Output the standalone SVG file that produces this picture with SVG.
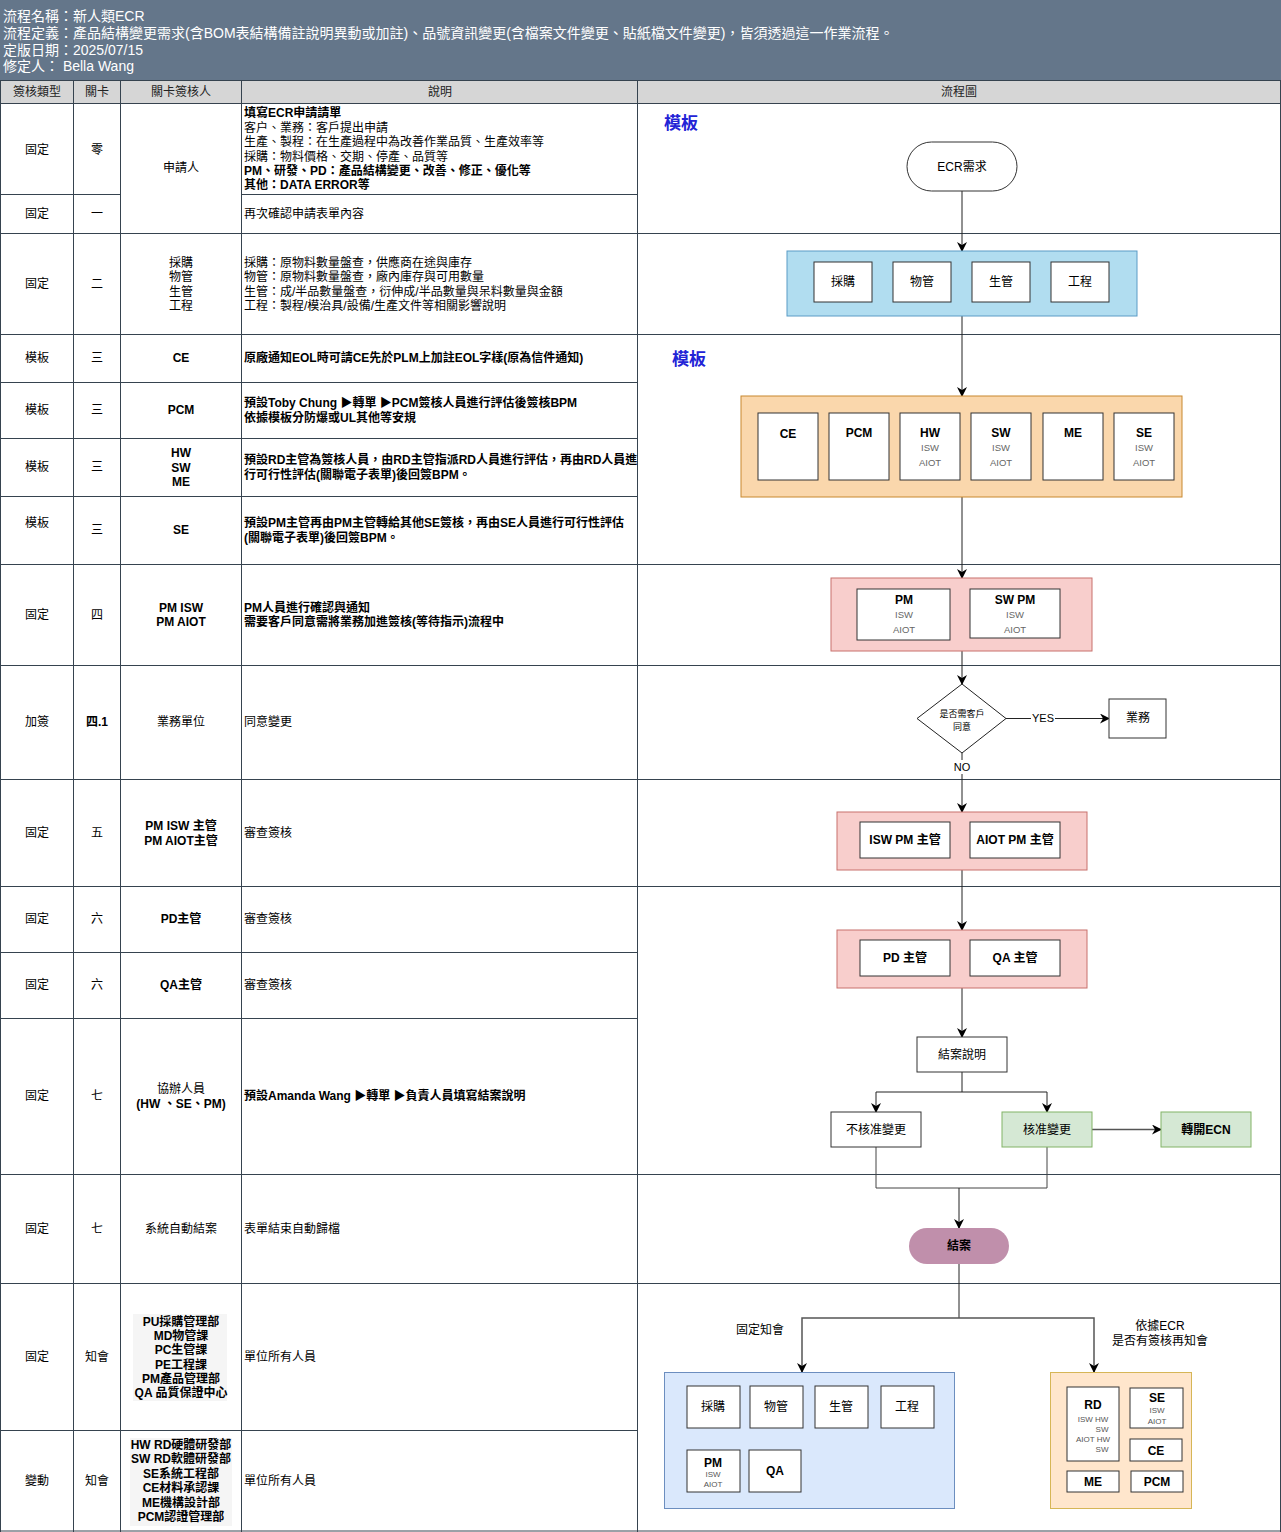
<svg xmlns="http://www.w3.org/2000/svg" width="1281" height="1532" viewBox="0 0 1281 1532">
<defs>
<marker id="arr" markerUnits="userSpaceOnUse" markerWidth="10" markerHeight="10" refX="9" refY="5" orient="auto">
<path d="M0,0 L10,5 L0,10 L3,5 Z" fill="#000"/>
</marker>
<style>
text{font-family:"Liberation Sans","Noto Sans CJK TC",sans-serif;font-size:12px;fill:#000}
.c{text-anchor:middle}
.b{font-weight:bold}
.h{fill:#fff;font-size:14px}
.hd{fill:#222}
.g line{stroke:#36434f;stroke-width:1}
.bx{fill:#fff;stroke:#333;stroke-width:1}
.sub{font-size:9.5px;fill:#666}
.tiny{font-size:8px;fill:#555}
.blue{font-size:17px;font-weight:bold;fill:#2323d6}
.cn path{fill:none;stroke:#222;stroke-width:1}
.lab{font-size:11px}
</style>
</defs>

<!-- header -->
<g id="header">
<rect x="0" y="0" width="1281" height="80" fill="#64768a"/>
<text class="h" x="3" y="21">流程名稱：新人類ECR</text>
<text class="h" x="3" y="38">流程定義：產品結構變更需求(含BOM表結構備註說明異動或加註)、品號資訊變更(含檔案文件變更、貼紙檔文件變更)，皆須透過這一作業流程。</text>
<text class="h" x="3" y="55">定版日期：2025/07/15</text>
<text class="h" x="3" y="71">修定人： Bella Wang</text>
</g>

<g id="colheader">
<rect x="0" y="80" width="1281" height="23" fill="#d6d6d6"/>
<text class="c hd" x="37" y="96">簽核類型</text>
<text class="c hd" x="97" y="96">關卡</text>
<text class="c hd" x="181" y="96">關卡簽核人</text>
<text class="c hd" x="440" y="96">說明</text>
<text class="c hd" x="959" y="96">流程圖</text>
</g>

<!-- grid -->
<g id="grid" class="g">
<line x1="0.5" y1="80" x2="0.5" y2="1532"/>
<line x1="73.5" y1="80" x2="73.5" y2="1532"/>
<line x1="120.5" y1="80" x2="120.5" y2="1532"/>
<line x1="241.5" y1="80" x2="241.5" y2="1532"/>
<line x1="637.5" y1="80" x2="637.5" y2="1532"/>
<line x1="1280.5" y1="80" x2="1280.5" y2="1532"/>
<line x1="0" y1="80.5" x2="1281" y2="80.5"/>
<line x1="0" y1="103.5" x2="1281" y2="103.5"/>
<line x1="0" y1="194.5" x2="120" y2="194.5"/>
<line x1="241" y1="194.5" x2="637" y2="194.5"/>
<line x1="0" y1="233.5" x2="1281" y2="233.5"/>
<line x1="0" y1="334.5" x2="1281" y2="334.5"/>
<line x1="0" y1="382.5" x2="637" y2="382.5"/>
<line x1="0" y1="438.5" x2="637" y2="438.5"/>
<line x1="0" y1="496.5" x2="637" y2="496.5"/>
<line x1="0" y1="564.5" x2="1281" y2="564.5"/>
<line x1="0" y1="665.5" x2="1281" y2="665.5"/>
<line x1="0" y1="779.5" x2="1281" y2="779.5"/>
<line x1="0" y1="886.5" x2="1281" y2="886.5"/>
<line x1="0" y1="952.5" x2="637" y2="952.5"/>
<line x1="0" y1="1018.5" x2="637" y2="1018.5"/>
<line x1="0" y1="1174.5" x2="1281" y2="1174.5"/>
<line x1="0" y1="1283.5" x2="1281" y2="1283.5"/>
<line x1="0" y1="1430.5" x2="637" y2="1430.5"/>
<line x1="0" y1="1531" x2="1281" y2="1531"/>
</g>

<!-- table rows -->
<g id="row0">
<text class="c" x="37" y="154">固定</text>
<text class="c" x="97" y="154">零</text>
<text class="c" x="181" y="172">申請人</text>
<text class="b" x="244" y="117">填寫ECR申請請單</text>
<text x="244" y="132">客户、業務：客戶提出申請</text>
<text x="244" y="146">生產、製程：在生產過程中為改善作業品質、生產效率等</text>
<text x="244" y="161">採購：物料價格、交期、停產、品質等</text>
<text class="b" x="244" y="175">PM、研發、PD：產品結構變更、改善、修正、優化等</text>
<text class="b" x="244" y="189">其他：DATA ERROR等</text>
</g>
<g id="row1">
<text class="c" x="37" y="218">固定</text>
<text class="c" x="97" y="218">一</text>
<text x="244" y="218">再次確認申請表單內容</text>
</g>
<g id="row2">
<text class="c" x="37" y="288">固定</text>
<text class="c" x="97" y="288">二</text>
<text class="c" x="181" y="267">採購</text>
<text class="c" x="181" y="281">物管</text>
<text class="c" x="181" y="296">生管</text>
<text class="c" x="181" y="310">工程</text>
<text x="244" y="267">採購：原物料數量盤查，供應商在途與庫存</text>
<text x="244" y="281">物管：原物料數量盤查，廠內庫存與可用數量</text>
<text x="244" y="296">生管：成/半品數量盤查，衍伸成/半品數量與呆料數量與金額</text>
<text x="244" y="310">工程：製程/模治具/設備/生產文件等相關影響說明</text>
</g>
<g id="row3ce">
<text class="c" x="37" y="362">模板</text>
<text class="c" x="97" y="362">三</text>
<text class="c b" x="181" y="362">CE</text>
<text class="b" x="244" y="362">原廠通知EOL時可請CE先於PLM上加註EOL字樣(原為信件通知)</text>
</g>
<g id="row3pcm">
<text class="c" x="37" y="414">模板</text>
<text class="c" x="97" y="414">三</text>
<text class="c b" x="181" y="414">PCM</text>
<text class="b" x="244" y="407">預設Toby Chung ▶轉單 ▶PCM簽核人員進行評估後簽核BPM</text>
<text class="b" x="244" y="422">依據模板分防爆或UL其他等安規</text>
</g>
<g id="row3hw">
<text class="c" x="37" y="471">模板</text>
<text class="c" x="97" y="471">三</text>
<text class="c b" x="181" y="457">HW</text>
<text class="c b" x="181" y="472">SW</text>
<text class="c b" x="181" y="486">ME</text>
<text class="b" x="244" y="464">預設RD主管為簽核人員，由RD主管指派RD人員進行評估，再由RD人員進</text>
<text class="b" x="244" y="479">行可行性評估(關聯電子表單)後回簽BPM。</text>
</g>
<g id="row3se">
<text class="c" x="37" y="527">模板</text>
<text class="c" x="97" y="534">三</text>
<text class="c b" x="181" y="534">SE</text>
<text class="b" x="244" y="527">預設PM主管再由PM主管轉給其他SE簽核，再由SE人員進行可行性評估</text>
<text class="b" x="244" y="542">(關聯電子表單)後回簽BPM。</text>
</g>
<g id="row4">
<text class="c" x="37" y="619">固定</text>
<text class="c" x="97" y="619">四</text>
<text class="c b" x="181" y="612">PM ISW</text>
<text class="c b" x="181" y="626">PM AIOT</text>
<text class="b" x="244" y="612">PM人員進行確認與通知</text>
<text class="b" x="244" y="626">需要客戶同意需將業務加進簽核(等待指示)流程中</text>
</g>
<g id="row41">
<text class="c" x="37" y="726">加簽</text>
<text class="c b" x="97" y="726">四.1</text>
<text class="c" x="181" y="726">業務單位</text>
<text x="244" y="726">同意變更</text>
</g>
<g id="row5">
<text class="c" x="37" y="837">固定</text>
<text class="c" x="97" y="837">五</text>
<text class="c b" x="181" y="830">PM ISW  主管</text>
<text class="c b" x="181" y="845">PM AIOT主管</text>
<text x="244" y="837">審查簽核</text>
</g>
<g id="row6pd">
<text class="c" x="37" y="923">固定</text>
<text class="c" x="97" y="923">六</text>
<text class="c b" x="181" y="923">PD主管</text>
<text x="244" y="923">審查簽核</text>
</g>
<g id="row6qa">
<text class="c" x="37" y="989">固定</text>
<text class="c" x="97" y="989">六</text>
<text class="c b" x="181" y="989">QA主管</text>
<text x="244" y="989">審查簽核</text>
</g>
<g id="row7">
<text class="c" x="37" y="1100">固定</text>
<text class="c" x="97" y="1100">七</text>
<text class="c" x="181" y="1093">協辦人員</text>
<text class="c b" x="181" y="1108">(HW 、SE、PM)</text>
<text class="b" x="244" y="1100">預設Amanda Wang ▶轉單 ▶負責人員填寫結案說明</text>
</g>
<g id="row7auto">
<text class="c" x="37" y="1233">固定</text>
<text class="c" x="97" y="1233">七</text>
<text class="c" x="181" y="1233">系統自動結案</text>
<text x="244" y="1233">表單結束自動歸檔</text>
</g>
<g id="rowfixed">
<rect x="133" y="1314" width="94" height="87" fill="#f5f5f5"/>
<text class="c" x="37" y="1361">固定</text>
<text class="c" x="97" y="1361">知會</text>
<text class="c b" x="181" y="1326">PU採購管理部</text>
<text class="c b" x="181" y="1340">MD物管課</text>
<text class="c b" x="181" y="1354">PC生管課</text>
<text class="c b" x="181" y="1369">PE工程課</text>
<text class="c b" x="181" y="1383">PM產品管理部</text>
<text class="c b" x="181" y="1397">QA 品質保證中心</text>
<text x="244" y="1361">單位所有人員</text>
</g>
<g id="rowvar">
<rect x="130" y="1438" width="102" height="88" fill="#f5f5f5"/>
<text class="c" x="37" y="1485">變動</text>
<text class="c" x="97" y="1485">知會</text>
<text class="c b" x="181" y="1449">HW RD硬體研發部</text>
<text class="c b" x="181" y="1463">SW RD軟體研發部</text>
<text class="c b" x="181" y="1478">SE系統工程部</text>
<text class="c b" x="181" y="1492">CE材料承認課</text>
<text class="c b" x="181" y="1507">ME機構設計部</text>
<text class="c b" x="181" y="1521">PCM認證管理部</text>
<text x="244" y="1485">單位所有人員</text>
</g>

<!-- flowchart labels -->
<text class="blue" x="664" y="129">模板</text>
<text class="blue" x="672" y="365">模板</text>

<!-- connectors -->
<g id="connectors" class="cn">
<path d="M962 191 V251" marker-end="url(#arr)"/>
<path d="M962 316 V396" marker-end="url(#arr)"/>
<path d="M962 497 V578" marker-end="url(#arr)"/>
<path d="M962 651 V684" marker-end="url(#arr)"/>
<path d="M1006 718.5 H1109" marker-end="url(#arr)"/>
<path d="M962 753 V812" marker-end="url(#arr)"/>
<path d="M962 870 V930" marker-end="url(#arr)"/>
<path d="M962 988 V1037" marker-end="url(#arr)"/>
<path d="M962 1072 V1092 H876 V1112" marker-end="url(#arr)"/>
<path d="M962 1092 H1047 V1112" marker-end="url(#arr)"/>
<path d="M1092 1129.5 H1161" marker-end="url(#arr)" style="stroke:#555;stroke-width:1.5"/>
<path d="M876 1147 V1188 H1047 V1147" style="stroke:#444"/>
<path d="M959 1188 V1228" marker-end="url(#arr)"/>
<path d="M959 1264 V1318"/>
<path d="M959 1318 H802 V1372" marker-end="url(#arr)" style="stroke:#555;stroke-width:1.5"/>
<path d="M959 1318 H1094 V1372" marker-end="url(#arr)" style="stroke:#555;stroke-width:1.5"/>
<rect x="1031" y="711" width="24" height="14" fill="#fff"/>
<text class="c lab" x="1043" y="722">YES</text>
<rect x="952" y="760" width="20" height="14" fill="#fff"/>
<text class="c lab" x="962" y="771">NO</text>
<text class="c" x="760" y="1334">固定知會</text>
<text class="c" x="1160" y="1330">依據ECR</text>
<text class="c" x="1160" y="1345">是否有簽核再知會</text>
</g>

<!-- nodes -->
<g id="ecr">
<rect x="907" y="142" width="110" height="49" rx="24.5" class="bx"/>
<text class="c" x="962" y="171">ECR需求</text>
</g>

<g id="step2">
<rect x="787" y="251" width="350" height="65" fill="#b1ddf0" stroke="#5a9bc6"/>
<rect x="814" y="262" width="58" height="40" class="bx"/><text class="c" x="843" y="286">採購</text>
<rect x="893" y="262" width="58" height="40" class="bx"/><text class="c" x="922" y="286">物管</text>
<rect x="972" y="262" width="58" height="40" class="bx"/><text class="c" x="1001" y="286">生管</text>
<rect x="1051" y="262" width="58" height="40" class="bx"/><text class="c" x="1080" y="286">工程</text>
</g>

<g id="step3">
<rect x="741" y="396" width="441" height="101" fill="#fad7ac" stroke="#c8882e"/>
<rect x="758" y="413" width="60" height="67" class="bx"/><text class="c b" x="788" y="438">CE</text>
<rect x="829" y="413" width="60" height="67" class="bx"/><text class="c b" x="859" y="437">PCM</text>
<rect x="900" y="413" width="60" height="67" class="bx"/><text class="c b" x="930" y="437">HW</text>
<text class="c sub" x="930" y="451">ISW</text><text class="c sub" x="930" y="466">AIOT</text>
<rect x="971" y="413" width="60" height="67" class="bx"/><text class="c b" x="1001" y="437">SW</text>
<text class="c sub" x="1001" y="451">ISW</text><text class="c sub" x="1001" y="466">AIOT</text>
<rect x="1043" y="413" width="60" height="67" class="bx"/><text class="c b" x="1073" y="437">ME</text>
<rect x="1114" y="413" width="60" height="67" class="bx"/><text class="c b" x="1144" y="437">SE</text>
<text class="c sub" x="1144" y="451">ISW</text><text class="c sub" x="1144" y="466">AIOT</text>
</g>

<g id="step4">
<rect x="831" y="578" width="261" height="73" fill="#f8cecc" stroke="#c8706c"/>
<rect x="857" y="589" width="93" height="51" class="bx"/><text class="c b" x="904" y="604">PM</text>
<text class="c sub" x="904" y="618">ISW</text><text class="c sub" x="904" y="633">AIOT</text>
<rect x="970" y="589" width="90" height="49" class="bx"/><text class="c b" x="1015" y="604">SW PM</text>
<text class="c sub" x="1015" y="618">ISW</text><text class="c sub" x="1015" y="633">AIOT</text>
</g>

<g id="decision">
<polygon points="962,684 1006,718.5 962,753 917,718.5" fill="#fff" stroke="#222"/>
<text class="c" style="font-size:9px" x="962" y="717">是否需客戶</text>
<text class="c" style="font-size:9px" x="962" y="730">同意</text>
</g>

<g id="sales">
<rect x="1109" y="699" width="57" height="39" class="bx"/>
<text class="c" x="1138" y="722">業務</text>
</g>

<g id="step5">
<rect x="837" y="812" width="250" height="58" fill="#f8cecc" stroke="#c8706c"/>
<rect x="860" y="822" width="90" height="36" class="bx"/><text class="c b" x="905" y="844">ISW PM 主管</text>
<rect x="970" y="822" width="90" height="36" class="bx"/><text class="c b" x="1015" y="844">AIOT PM 主管</text>
</g>

<g id="step6">
<rect x="837" y="930" width="250" height="58" fill="#f8cecc" stroke="#c8706c"/>
<rect x="860" y="940" width="90" height="36" class="bx"/><text class="c b" x="905" y="962">PD 主管</text>
<rect x="970" y="940" width="90" height="36" class="bx"/><text class="c b" x="1015" y="962">QA 主管</text>
</g>

<g id="closenote">
<rect x="917" y="1037" width="90" height="35" class="bx"/>
<text class="c" x="962" y="1059">結案說明</text>
</g>
<g id="reject">
<rect x="831" y="1112" width="90" height="35" class="bx"/>
<text class="c" x="876" y="1134">不核准變更</text>
</g>
<g id="approve">
<rect x="1002" y="1112" width="90" height="35" fill="#d5e8d4" stroke="#82b366"/>
<text class="c" x="1047" y="1134">核准變更</text>
</g>
<g id="ecn">
<rect x="1161" y="1112" width="90" height="35" fill="#d5e8d4" stroke="#82b366"/>
<text class="c b" x="1206" y="1134">轉開ECN</text>
</g>
<g id="end">
<rect x="909" y="1228" width="100" height="36" rx="18" fill="#c08fab"/>
<text class="c b" x="959" y="1250">結案</text>
</g>

<g id="notifyfixed">
<rect x="664.5" y="1372.5" width="290" height="136" fill="#dae8fc" stroke="#6c8ebf"/>
<rect x="687" y="1386" width="53" height="42" class="bx"/><text class="c" x="713" y="1411">採購</text>
<rect x="750" y="1386" width="53" height="42" class="bx"/><text class="c" x="776" y="1411">物管</text>
<rect x="815" y="1386" width="53" height="42" class="bx"/><text class="c" x="841" y="1411">生管</text>
<rect x="881" y="1386" width="53" height="42" class="bx"/><text class="c" x="907" y="1411">工程</text>
<rect x="687" y="1450" width="53" height="42" class="bx"/><text class="c b" x="713" y="1467">PM</text>
<text class="c tiny" x="713" y="1477">ISW</text><text class="c tiny" x="713" y="1487">AIOT</text>
<rect x="749" y="1450" width="52" height="42" class="bx"/><text class="c b" x="775" y="1475">QA</text>
</g>

<g id="notifyvar">
<rect x="1050.5" y="1372.5" width="141" height="136" fill="#ffe6cc" stroke="#d6b656"/>
<rect x="1067" y="1387" width="52" height="74" class="bx"/><text class="c b" x="1093" y="1409">RD</text>
<text class="c tiny" x="1093" y="1422">ISW  HW</text>
<text class="c tiny" x="1102" y="1432">SW</text>
<text class="c tiny" x="1093" y="1442">AIOT HW</text>
<text class="c tiny" x="1102" y="1452">SW</text>
<rect x="1130" y="1388" width="53" height="40" class="bx"/><text class="c b" x="1157" y="1402">SE</text>
<text class="c tiny" x="1157" y="1413">ISW</text><text class="c tiny" x="1157" y="1424">AIOT</text>
<rect x="1130" y="1439" width="52" height="22" class="bx"/><text class="c b" x="1156" y="1455">CE</text>
<rect x="1067" y="1471" width="52" height="21" class="bx"/><text class="c b" x="1093" y="1486">ME</text>
<rect x="1131" y="1471" width="52" height="21" class="bx"/><text class="c b" x="1157" y="1486">PCM</text>
</g>
</svg>
